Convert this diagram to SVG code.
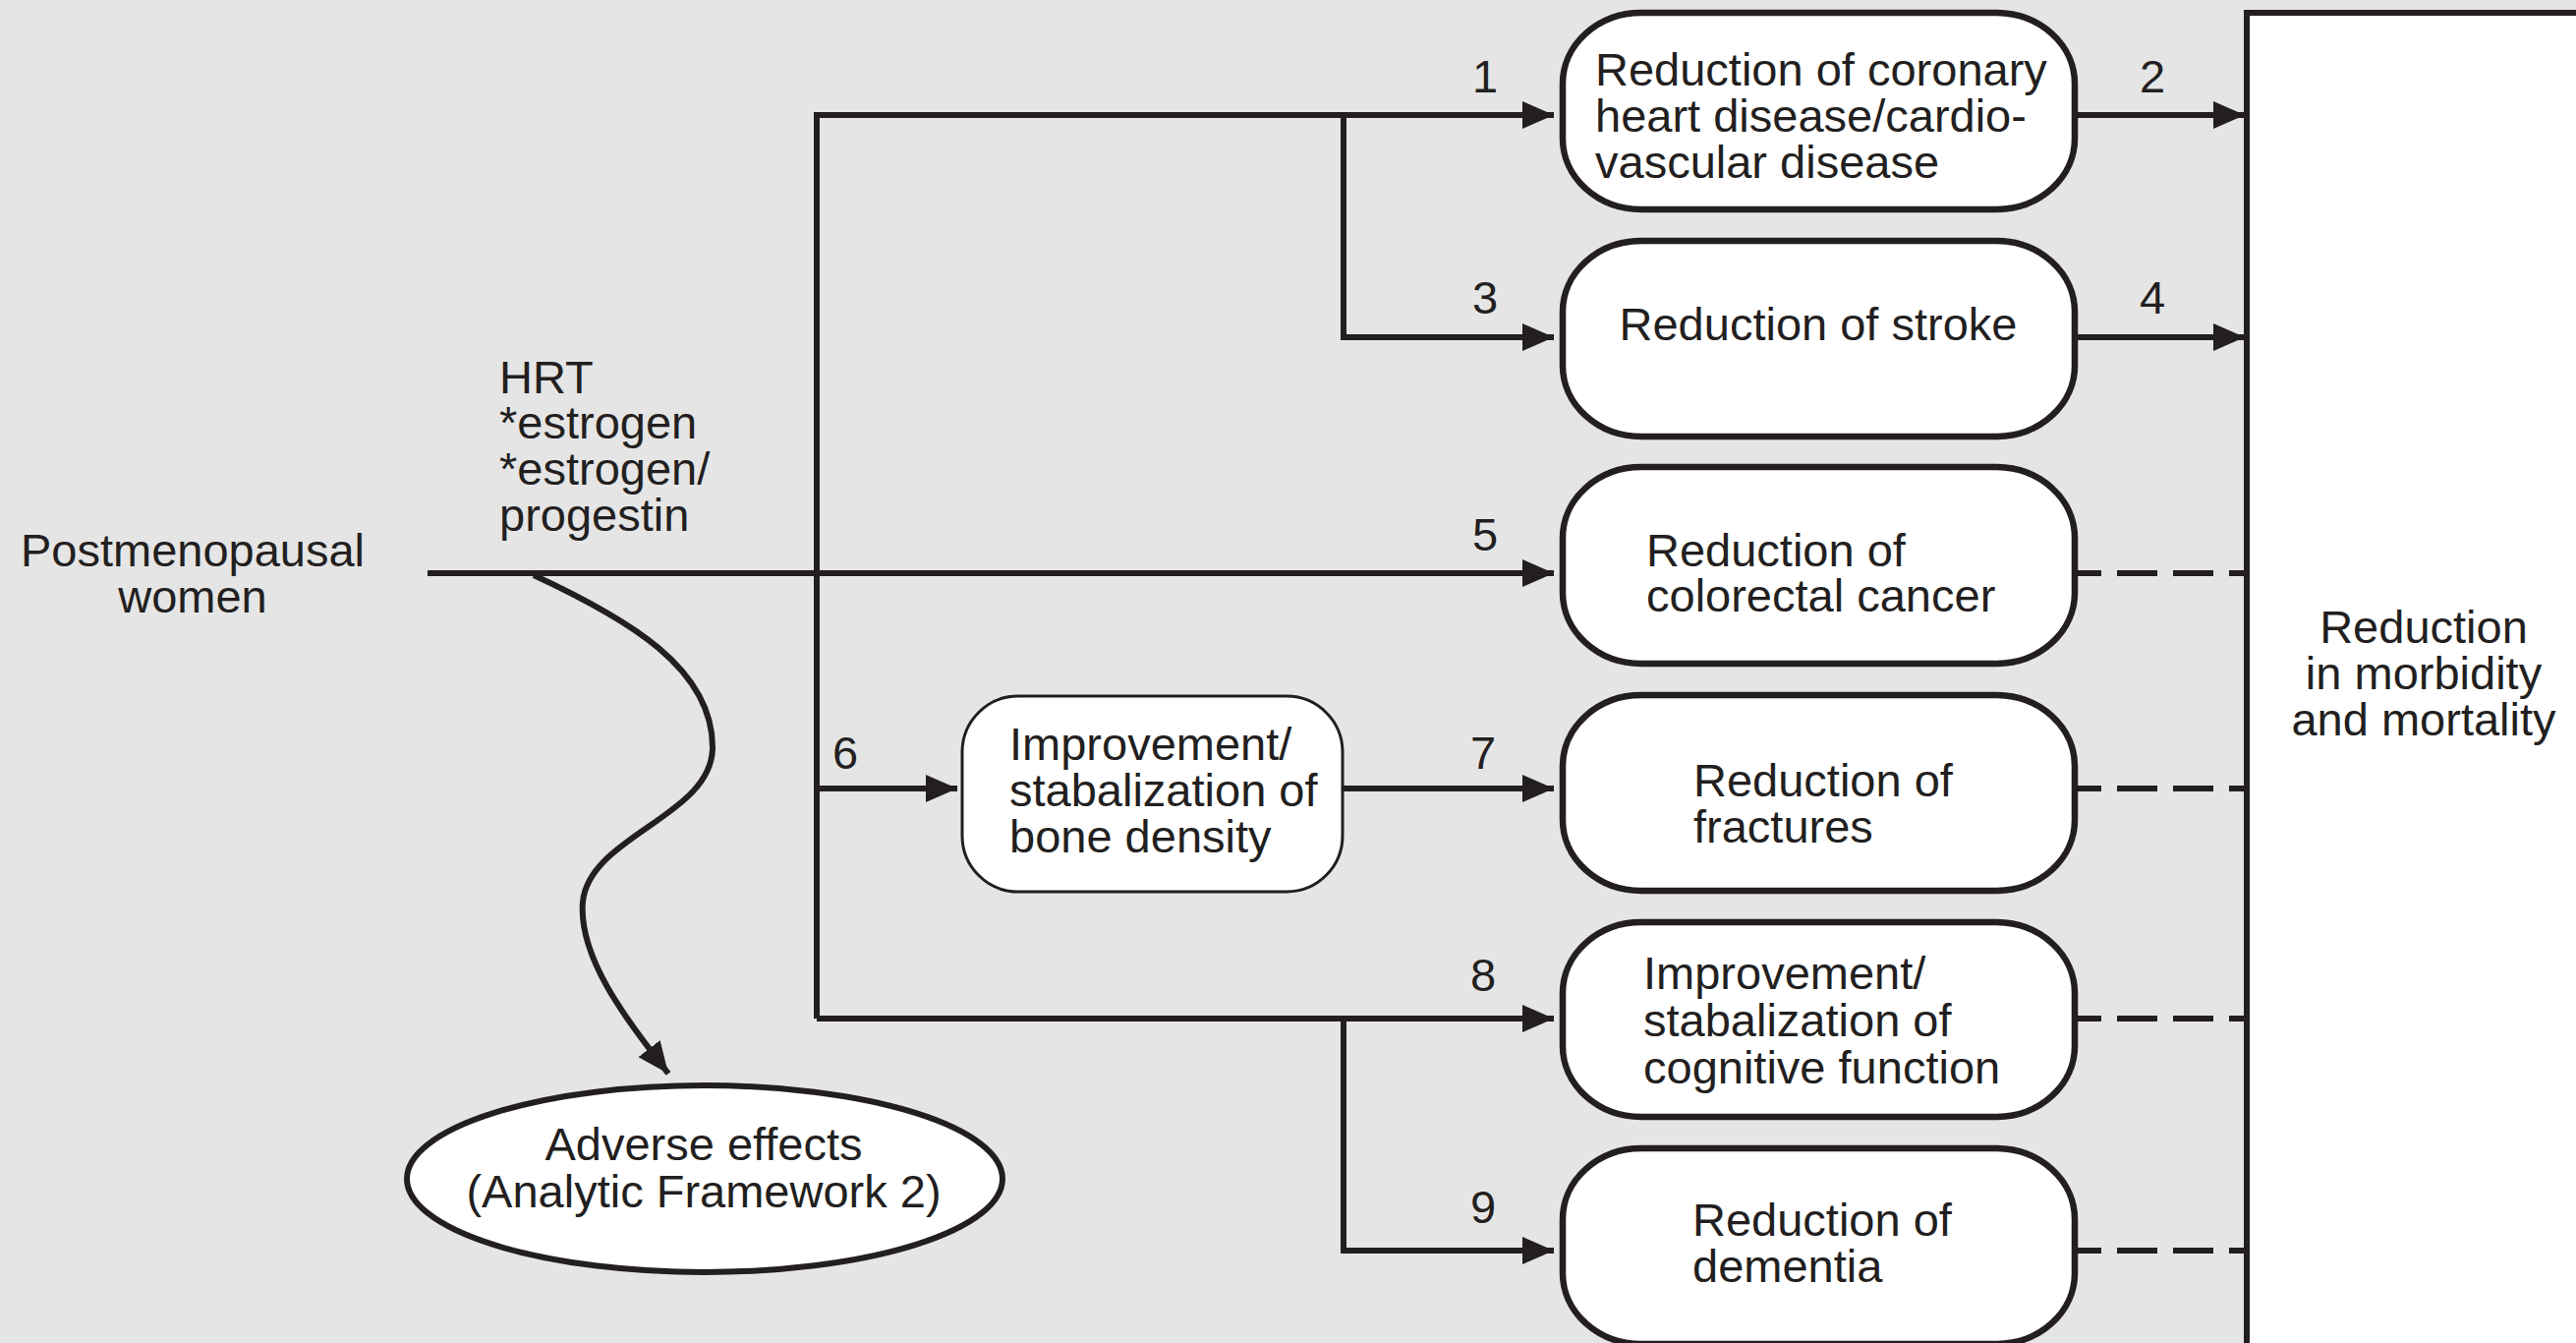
<svg xmlns="http://www.w3.org/2000/svg" width="2621" height="1366" viewBox="0 0 2621 1366">
<style>
text{font-family:"Liberation Sans",Arial,sans-serif;font-size:47px;fill:#231f20}
.c{text-anchor:middle}
.ln{stroke:#231f20;stroke-width:6;fill:none}
.ds{stroke:#231f20;stroke-width:6;fill:none;stroke-dasharray:41 16;stroke-dashoffset:17}
.box{fill:#fff;stroke:#231f20;stroke-width:6.5}
.thin{fill:#fff;stroke:#231f20;stroke-width:3}
</style>
<defs>
<marker id="ah" viewBox="0 0 32 28" refX="32" refY="14" markerWidth="32" markerHeight="28" markerUnits="userSpaceOnUse" orient="auto">
<path d="M0,0 L32,14 L0,28 z" fill="#231f20"/>
</marker>
</defs>
<rect x="0" y="0" width="2621" height="1366" fill="#e5e5e5"/>

<g id="outcome">
<rect x="2286" y="13" width="400" height="1420" fill="#fff" stroke="#231f20" stroke-width="6"/>
<text class="c" x="2466" y="654">Reduction</text>
<text class="c" x="2466" y="701">in morbidity</text>
<text class="c" x="2466" y="748">and mortality</text>
</g>

<g id="connectors">
<path class="ln" d="M435 583 H1581" marker-end="url(#ah)"/>
<path class="ln" d="M831 1036 V117 H1581" marker-end="url(#ah)"/>
<path class="ln" d="M1367 117 V343 H1581" marker-end="url(#ah)"/>
<path class="ln" d="M831 802 H974" marker-end="url(#ah)"/>
<path class="ln" d="M1367 802 H1581" marker-end="url(#ah)"/>
<path class="ln" d="M831 1036 H1581" marker-end="url(#ah)"/>
<path class="ln" d="M1367 1036 V1272 H1581" marker-end="url(#ah)"/>
<path class="ln" d="M2111 117 H2284" marker-end="url(#ah)"/>
<path class="ln" d="M2111 343 H2284" marker-end="url(#ah)"/>
<path class="ds" d="M2114 583 H2286"/>
<path class="ds" d="M2114 802 H2286"/>
<path class="ds" d="M2114 1036 H2286"/>
<path class="ds" d="M2114 1272 H2286"/>
<path class="ln" d="M543 585 C640 630 725 680 725 760 C725 830 600 850 593 917 C588 975 640 1040 680 1092" marker-end="url(#ah)"/>
<text class="c" x="1511" y="94">1</text>
<text class="c" x="2190" y="94">2</text>
<text class="c" x="1511" y="319">3</text>
<text class="c" x="2190" y="319">4</text>
<text class="c" x="1511" y="560">5</text>
<text class="c" x="860" y="782">6</text>
<text class="c" x="1509" y="782">7</text>
<text class="c" x="1509" y="1008">8</text>
<text class="c" x="1509" y="1244">9</text>
</g>

<g id="population">
<text class="c" x="196" y="576">Postmenopausal</text>
<text class="c" x="196" y="623">women</text>
</g>

<g id="intervention">
<text x="508" y="400">HRT</text>
<text x="508" y="446">*estrogen</text>
<text x="508" y="493">*estrogen/</text>
<text x="508" y="540">progestin</text>
</g>

<g id="chd">
<rect class="box" x="1590" y="13" width="521" height="200" rx="80" ry="72"/>
<text x="1623" y="87">Reduction of coronary</text>
<text x="1623" y="134">heart disease/cardio-</text>
<text x="1623" y="181">vascular disease</text>
</g>

<g id="stroke">
<rect class="box" x="1590" y="245" width="521" height="199" rx="80" ry="72"/>
<text class="c" x="1850" y="346">Reduction of stroke</text>
</g>

<g id="colorectal">
<rect class="box" x="1590" y="475" width="521" height="200" rx="80" ry="72"/>
<text x="1675" y="576">Reduction of</text>
<text x="1675" y="622">colorectal cancer</text>
</g>

<g id="bone">
<rect class="thin" x="979" y="708" width="387" height="199" rx="57" ry="57"/>
<text x="1027" y="773">Improvement/</text>
<text x="1027" y="820">stabalization of</text>
<text x="1027" y="867">bone density</text>
</g>

<g id="fractures">
<rect class="box" x="1590" y="707" width="521" height="199" rx="80" ry="72"/>
<text x="1723" y="810">Reduction of</text>
<text x="1723" y="857">fractures</text>
</g>

<g id="cognitive">
<rect class="box" x="1590" y="938" width="521" height="198" rx="80" ry="72"/>
<text x="1672" y="1006">Improvement/</text>
<text x="1672" y="1054">stabalization of</text>
<text x="1672" y="1102">cognitive function</text>
</g>

<g id="dementia">
<rect class="box" x="1590" y="1168" width="521" height="199" rx="80" ry="72"/>
<text x="1722" y="1257">Reduction of</text>
<text x="1722" y="1304">dementia</text>
</g>

<g id="adverse">
<ellipse cx="717" cy="1199" rx="303" ry="95" fill="#fff" stroke="#231f20" stroke-width="6"/>
<text class="c" x="716" y="1180">Adverse effects</text>
<text class="c" x="716" y="1228">(Analytic Framework 2)</text>
</g>
</svg>
